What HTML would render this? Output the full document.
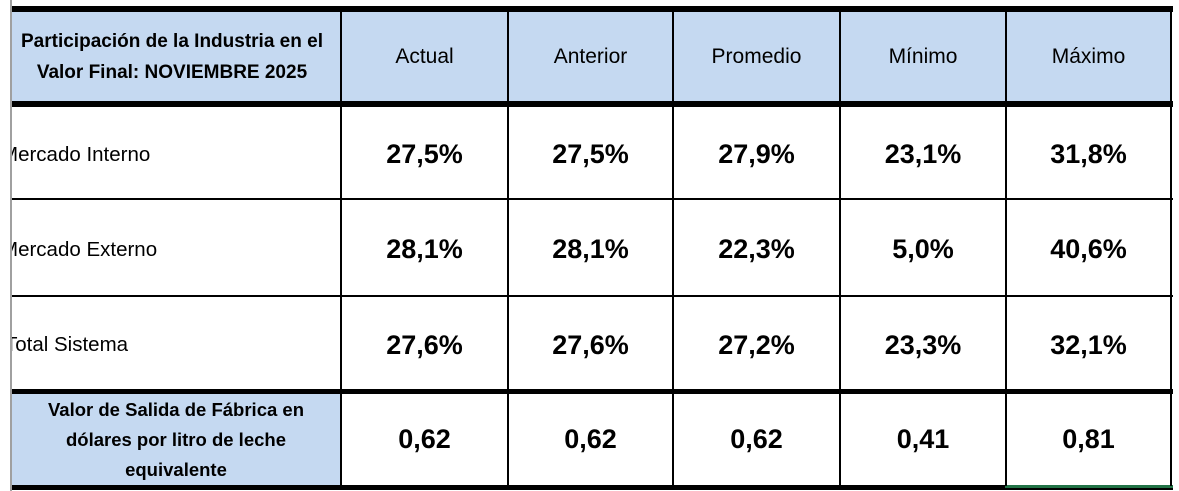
<!DOCTYPE html><html><head><style>
body{margin:0;width:1179px;height:491px;background:#fff;position:relative;overflow:hidden;font-family:"Liberation Sans",sans-serif;color:#000}
.a{position:absolute}
.bg{background:#c5d9f1}
.h{background:#000}
.t{position:absolute;display:flex;align-items:center;justify-content:center;text-align:center}
.v{font-weight:bold;font-size:27px}
.c{font-size:21px}
.l{position:absolute;font-size:20.5px;display:flex;align-items:center;white-space:nowrap}
</style></head><body>
<div class="a bg" style="left:12px;top:12px;width:1159px;height:89px"></div>
<div class="a bg" style="left:12px;top:393px;width:329px;height:93px"></div>
<div class="a" style="left:10px;top:0;width:2px;height:491px;background:#a0a0a0"></div>
<div class="a h" style="left:12px;top:6px;width:1161px;height:6px"></div>
<div class="a h" style="left:12px;top:101px;width:1161px;height:6px"></div>
<div class="a h" style="left:12px;top:198px;width:1161px;height:2px"></div>
<div class="a h" style="left:12px;top:295px;width:1161px;height:2px"></div>
<div class="a h" style="left:12px;top:389px;width:1161px;height:5px"></div>
<div class="a h" style="left:12px;top:485px;width:1161px;height:5px"></div>
<div class="a" style="left:1005px;top:485px;width:168px;height:3px;background:#217346"></div>
<div class="a h" style="left:340px;top:12px;width:2px;height:474px"></div>
<div class="a h" style="left:507px;top:12px;width:2px;height:474px"></div>
<div class="a h" style="left:672px;top:12px;width:2px;height:474px"></div>
<div class="a h" style="left:839px;top:12px;width:2px;height:474px"></div>
<div class="a h" style="left:1005px;top:12px;width:2px;height:474px"></div>
<div class="a h" style="left:1170px;top:12px;width:2px;height:474px"></div>
<div class="a" style="left:12px;top:12px;width:328px;height:89px;overflow:hidden">
<div class="t" style="left:-15px;top:0;width:350px;height:89px;font-weight:bold;font-size:19px;line-height:31px;white-space:nowrap">Participación de la Industria en el<br>Valor Final: NOVIEMBRE 2025</div></div>
<div class="t c" style="left:342px;top:12px;width:165px;height:89px">Actual</div>
<div class="t c" style="left:509px;top:12px;width:163px;height:89px">Anterior</div>
<div class="t c" style="left:674px;top:12px;width:165px;height:89px">Promedio</div>
<div class="t c" style="left:841px;top:12px;width:164px;height:89px">Mínimo</div>
<div class="t c" style="left:1007px;top:12px;width:163px;height:89px">Máximo</div>
<div class="a" style="left:12px;top:107px;width:328px;height:280px;overflow:hidden">
<div class="l" style="left:-11px;top:2px;height:91px">Mercado Interno</div>
<div class="l" style="left:-11px;top:95px;height:95px">Mercado Externo</div>
<div class="l" style="left:-7px;top:192px;height:92px">Total Sistema</div>
</div>
<div class="t" style="left:12px;top:394px;width:328px;height:91px;font-weight:bold;font-size:18.5px;line-height:30px">Valor de Salida de Fábrica en<br>dólares por litro de leche<br>equivalente</div>
<div class="t v" style="left:342px;top:107px;width:165px;height:95px">27,5%</div>
<div class="t v" style="left:509px;top:107px;width:163px;height:95px">27,5%</div>
<div class="t v" style="left:674px;top:107px;width:165px;height:95px">27,9%</div>
<div class="t v" style="left:841px;top:107px;width:164px;height:95px">23,1%</div>
<div class="t v" style="left:1007px;top:107px;width:163px;height:95px">31,8%</div>
<div class="t v" style="left:342px;top:200px;width:165px;height:99px">28,1%</div>
<div class="t v" style="left:509px;top:200px;width:163px;height:99px">28,1%</div>
<div class="t v" style="left:674px;top:200px;width:165px;height:99px">22,3%</div>
<div class="t v" style="left:841px;top:200px;width:164px;height:99px">5,0%</div>
<div class="t v" style="left:1007px;top:200px;width:163px;height:99px">40,6%</div>
<div class="t v" style="left:342px;top:297px;width:165px;height:96px">27,6%</div>
<div class="t v" style="left:509px;top:297px;width:163px;height:96px">27,6%</div>
<div class="t v" style="left:674px;top:297px;width:165px;height:96px">27,2%</div>
<div class="t v" style="left:841px;top:297px;width:164px;height:96px">23,3%</div>
<div class="t v" style="left:1007px;top:297px;width:163px;height:96px">32,1%</div>
<div class="t v" style="left:342px;top:394px;width:165px;height:91px">0,62</div>
<div class="t v" style="left:509px;top:394px;width:163px;height:91px">0,62</div>
<div class="t v" style="left:674px;top:394px;width:165px;height:91px">0,62</div>
<div class="t v" style="left:841px;top:394px;width:164px;height:91px">0,41</div>
<div class="t v" style="left:1007px;top:394px;width:163px;height:91px">0,81</div>
</body></html>
